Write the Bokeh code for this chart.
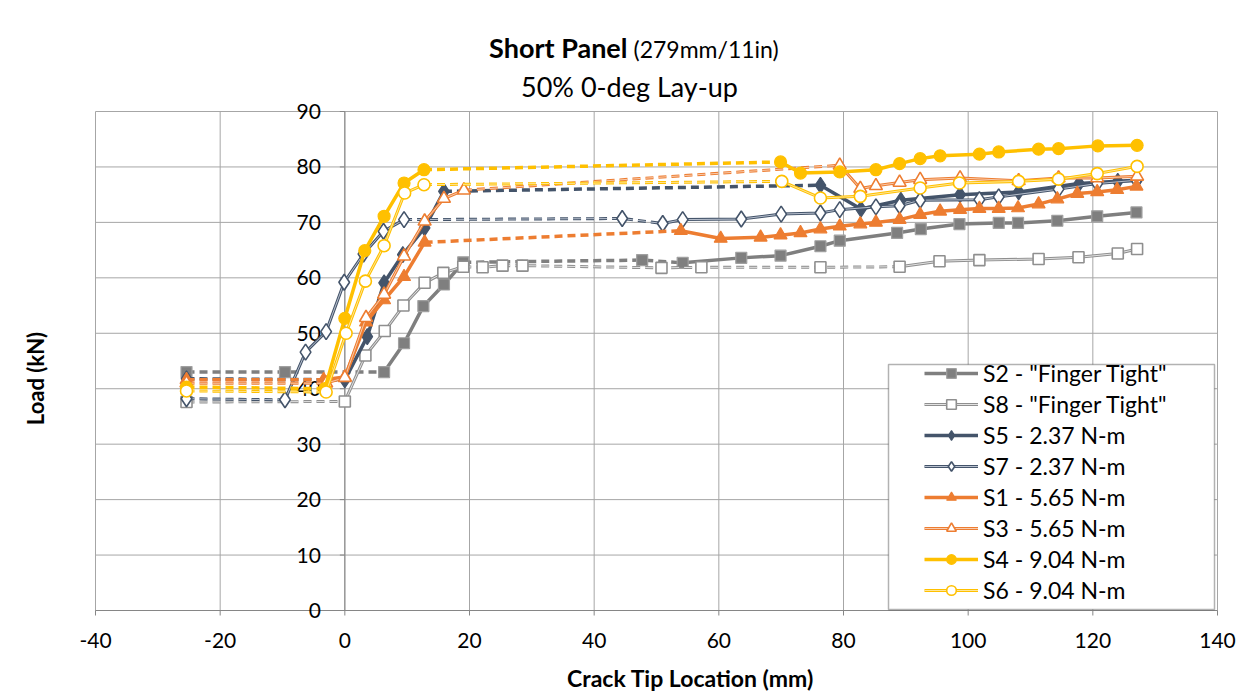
from bokeh.plotting import figure
from bokeh.models import Range1d, Legend, LegendItem, BoxAnnotation
from bokeh.core.properties import value
from bokeh.embed import file_html
from bokeh.resources import INLINE

FONT = "Lato"

# ---- axis ticks ----
x_ticks = [-40, -20, 0, 20, 40, 60, 80, 100, 120, 140]
y_ticks = [0, 10, 20, 30, 40, 50, 60, 70, 80, 90]

# ---- measured series: crack tip location (mm) vs load (kN) ----
s2_x = [-25.4, -9.6, 6.3, 9.5, 12.6, 15.9, 19.0, 47.7, 54.2, 63.6, 69.9, 76.3, 79.4,
        88.6, 92.4, 98.6, 104.9, 108.0, 114.3, 120.7, 127.0]
s2_y = [43.0, 43.0, 43.0, 48.2, 54.9, 58.8, 62.8, 63.2, 62.7, 63.6, 64.0, 65.7, 66.7,
        68.1, 68.8, 69.7, 69.9, 69.9, 70.3, 71.1, 71.8]
s2_gaps = [0, 1, 6, 7]

s8_x = [-25.4, 0.0, 3.3, 6.4, 9.4, 12.8, 15.8, 19.0, 22.1, 25.3, 28.5, 50.8, 57.2,
        76.3, 89.0, 95.4, 101.8, 111.3, 117.7, 124.0, 127.1]
s8_y = [37.6, 37.7, 46.0, 50.4, 55.0, 59.1, 60.9, 62.0, 61.9, 62.2, 62.2, 61.8, 61.9,
        61.9, 62.0, 63.0, 63.2, 63.4, 63.7, 64.4, 65.2]
s8_gaps = [0, 7, 8, 9, 10, 11, 12, 13]

s5_x = [-25.4, 0.0, 3.6, 6.3, 9.3, 12.8, 15.9, 76.3, 82.8, 89.2, 98.7, 108.1, 117.8,
        124.0, 127.1]
s5_y = [41.8, 41.6, 49.4, 59.1, 64.2, 69.0, 75.6, 76.7, 72.4, 74.0, 75.0, 75.5, 77.0,
        77.4, 77.6]
s5_gaps = [0, 6]

s7_x = [-25.4, -9.6, -6.3, -3.0, -0.1, 3.0, 6.2, 9.5, 44.5, 51.0, 54.2, 63.6, 70.0,
        76.3, 79.4, 85.2, 89.0, 92.3, 101.8, 104.9, 114.5, 120.7, 127.0]
s7_y = [38.2, 38.0, 46.6, 50.3, 59.2, 64.3, 68.4, 70.5, 70.7, 69.8, 70.5, 70.6, 71.5,
        71.7, 72.3, 72.8, 73.0, 74.0, 74.1, 74.6, 76.0, 77.0, 77.6]
s7_gaps = [0, 7, 8]

s1_x = [-25.4, -3.4, 0.0, 3.4, 6.3, 9.5, 12.8, 53.9, 60.3, 66.7, 69.9, 73.1, 76.3,
        79.4, 82.7, 85.2, 89.0, 92.3, 95.5, 98.7, 101.8, 104.9, 108.0, 111.3, 114.3,
        117.5, 120.7, 123.9, 127.0]
s1_y = [41.6, 41.6, 42.1, 52.0, 56.0, 60.2, 66.4, 68.5, 67.1, 67.3, 67.7, 68.1, 68.8,
        69.3, 69.7, 70.0, 70.5, 71.4, 72.0, 72.3, 72.5, 72.5, 72.6, 73.3, 74.2,
        75.2, 75.5, 75.9, 76.5]
s1_gaps = [0, 6]

s3_x = [-25.4, -3.0, 0.0, 3.4, 6.3, 9.5, 12.8, 15.9, 19.1, 79.4, 82.7, 85.2, 89.0,
        92.3, 98.7, 108.1, 114.5, 120.7, 127.1]
s3_y = [41.0, 41.0, 42.0, 52.8, 57.0, 63.9, 70.2, 74.3, 75.8, 80.3, 76.1, 76.6, 77.2,
        77.7, 78.0, 77.5, 78.0, 78.0, 78.3]
s3_gaps = [0, 8]

s4_x = [-25.4, -3.2, 0.0, 3.2, 6.3, 9.5, 12.7, 69.9, 73.1, 79.4, 85.2, 89.0, 92.3,
        95.5, 101.8, 104.9, 111.3, 114.5, 120.8, 127.1]
s4_y = [40.3, 40.0, 52.7, 64.9, 71.1, 77.1, 79.5, 80.9, 78.9, 79.1, 79.5, 80.6, 81.5,
        82.0, 82.3, 82.7, 83.2, 83.3, 83.8, 83.9]
s4_gaps = [0, 6]

s6_x = [-25.4, -3.0, 0.2, 3.3, 6.3, 9.6, 12.7, 70.1, 76.3, 82.7, 92.3, 98.6, 108.1,
        114.5, 120.7, 127.1]
s6_y = [39.6, 39.4, 50.0, 59.4, 65.8, 75.3, 76.8, 77.4, 74.4, 74.7, 76.2, 77.1, 77.4,
        77.8, 78.8, 80.1]
s6_gaps = [0, 6]

series = [
    # label, x, y, dashed segments, colour, marker, filled, inner tint
    ('S2 - "Finger Tight"', s2_x, s2_y, s2_gaps, "#7f7f7f", "square", True, None),
    ('S8 - "Finger Tight"', s8_x, s8_y, s8_gaps, "#8f8f8f", "square", False, "#e2e2e2"),
    ("S5 - 2.37 N-m", s5_x, s5_y, s5_gaps, "#44546a", "diamond", True, None),
    ("S7 - 2.37 N-m", s7_x, s7_y, s7_gaps, "#44546a", "diamond", False, "#b8c0ce"),
    ("S1 - 5.65 N-m", s1_x, s1_y, s1_gaps, "#ed7d31", "triangle", True, None),
    ("S3 - 5.65 N-m", s3_x, s3_y, s3_gaps, "#ed7d31", "triangle", False, "#f8cbad"),
    ("S4 - 9.04 N-m", s4_x, s4_y, s4_gaps, "#ffc000", "circle", True, None),
    ("S6 - 9.04 N-m", s6_x, s6_y, s6_gaps, "#ffc000", "circle", False, "#ffe699"),
]

MARKER_SIZE = {"square": 11, "diamond": 16, "triangle": 13, "circle": 12}

# plotting window (data units) and the margin around it (pixels)
X0, X1, Y0, Y1 = -40, 140, 0, 90
W, H = 1253, 694
PAD_L, PAD_R, PAD_T, PAD_B = 95, 36, 111, 84
sx = (X1 - X0) / (W - PAD_L - PAD_R)   # data units per pixel
sy = (Y1 - Y0) / (H - PAD_T - PAD_B)


def px_x(px):
    return X0 + (px - PAD_L) * sx


def px_y(py):
    return Y0 + (H - PAD_B - py) * sy


def split_runs(xs, ys, dashed):
    """Group consecutive segments into solid and dashed polylines."""
    solid, broken = [], []
    cur, cur_dashed = None, None
    for i in range(len(xs) - 1):
        d = i in dashed
        if cur is None or d != cur_dashed:
            if cur is not None:
                (broken if cur_dashed else solid).append(cur)
            cur = ([xs[i]], [ys[i]])
            cur_dashed = d
        cur[0].append(xs[i + 1])
        cur[1].append(ys[i + 1])
    if cur is not None:
        (broken if cur_dashed else solid).append(cur)
    return solid, broken


p = figure(width=W, height=H, output_backend="svg", toolbar_location=None,
           title=None,
           x_range=Range1d(X0 - PAD_L * sx, X1 + PAD_R * sx),
           y_range=Range1d(Y0 - PAD_B * sy, Y1 + PAD_T * sy),
           x_axis_location=None, y_axis_location=None, min_border=0)
p.outline_line_color = None
p.background_fill_color = "white"
p.border_fill_color = "white"
p.xgrid.visible = False
p.ygrid.visible = False

GRID = "#a6a6a6"
AXIS = "#868686"
TXT = dict(text_font=value(FONT), text_color="black")

# gridlines
p.segment(x0=x_ticks, y0=[Y0] * len(x_ticks), x1=x_ticks, y1=[Y1] * len(x_ticks),
          line_color=GRID, line_width=1)
p.segment(x0=[X0] * len(y_ticks), y0=y_ticks, x1=[X1] * len(y_ticks), y1=y_ticks,
          line_color=GRID, line_width=1)

# horizontal axis along the bottom
p.segment(x0=[X0], y0=[Y0], x1=[X1], y1=[Y0], line_color=AXIS, line_width=1)
p.segment(x0=x_ticks, y0=[Y0] * len(x_ticks), x1=x_ticks,
          y1=[Y0 - 5 * sy] * len(x_ticks), line_color=AXIS, line_width=1)
p.text(x=x_ticks, y=[Y0] * len(x_ticks), text=[str(t) for t in x_ticks],
       y_offset=30, text_align="center", text_baseline="middle",
       text_font_size="21px", **TXT)

# vertical value axis crossing at x = 0
p.segment(x0=[0], y0=[Y0], x1=[0], y1=[Y1], line_color=AXIS, line_width=1)
p.segment(x0=[0] * len(y_ticks), y0=y_ticks, x1=[-5 * sx] * len(y_ticks), y1=y_ticks,
          line_color=AXIS, line_width=1)
p.text(x=[0] * len(y_ticks), y=y_ticks, text=[str(t) for t in y_ticks],
       x_offset=-24, text_align="right", text_baseline="middle",
       text_font_size="21px", **TXT)

legend_items = []
for label, xs, ys, gaps, color, marker, filled, tint in series:
    solid, broken = split_runs(xs, ys, set(gaps))
    lw = 3.5 if filled else 3
    renderers = []
    if broken:
        p.multi_line(xs=[r[0] for r in broken], ys=[r[1] for r in broken],
                     line_color=color, line_width=lw, line_dash="8 5")
        if tint:
            p.multi_line(xs=[r[0] for r in broken], ys=[r[1] for r in broken],
                         line_color=tint, line_width=1, line_dash="8 5")
    rs = p.multi_line(xs=[r[0] for r in solid], ys=[r[1] for r in solid],
                      line_color=color, line_width=lw, line_join="round")
    renderers.append(rs)
    if tint:
        rt = p.multi_line(xs=[r[0] for r in solid], ys=[r[1] for r in solid],
                          line_color=tint, line_width=1, line_join="round")
        renderers.append(rt)
    if filled:
        edge = "#a0a0a0" if marker == "square" else color
        rm = p.scatter(xs, ys, marker=marker, size=MARKER_SIZE[marker],
                       fill_color=color, line_color=edge, line_width=1.2)
    else:
        rm = p.scatter(xs, ys, marker=marker, size=MARKER_SIZE[marker],
                       fill_color="white", line_color=color, line_width=1.6)
    renderers.append(rm)
    legend_items.append(LegendItem(label=label, renderers=renderers))

# legend frame
p.add_layout(BoxAnnotation(left=px_x(888), right=px_x(1214),
                           bottom=px_y(609), top=px_y(364),
                           fill_color="white", fill_alpha=1.0,
                           line_color="black", line_width=1.5))
legend = Legend(items=legend_items, location=(924, 90), padding=0, spacing=3,
                glyph_width=54, glyph_height=24, label_height=24, label_standoff=5,
                label_text_font=FONT, label_text_font_size="23px",
                label_text_color="black", border_line_color=None,
                background_fill_alpha=0.0)
p.add_layout(legend, "center")

# chart titles
p.text(x=[px_x(627)], y=[px_y(47)], text=["Short Panel"], text_align="right",
       text_baseline="middle", text_font_size="27px", text_font_style="bold", **TXT)
p.text(x=[px_x(633)], y=[px_y(48)], text=["(279mm/11in)"], text_align="left",
       text_baseline="middle", text_font_size="23px", **TXT)
p.text(x=[px_x(629)], y=[px_y(86)], text=["50% 0-deg Lay-up"], text_align="center",
       text_baseline="middle", text_font_size="27px", **TXT)

# axis titles
p.text(x=[px_x(690)], y=[px_y(677)], text=["Crack Tip Location (mm)"],
       text_align="center", text_baseline="middle", text_font_size="23px",
       text_font_style="bold", **TXT)
p.text(x=[px_x(35)], y=[px_y(378)], text=["Load (kN)"], angle=1.5708,
       text_align="center", text_baseline="middle", text_font_size="22px",
       text_font_style="bold", **TXT)

open("out.html", "w").write(file_html(p, INLINE))
